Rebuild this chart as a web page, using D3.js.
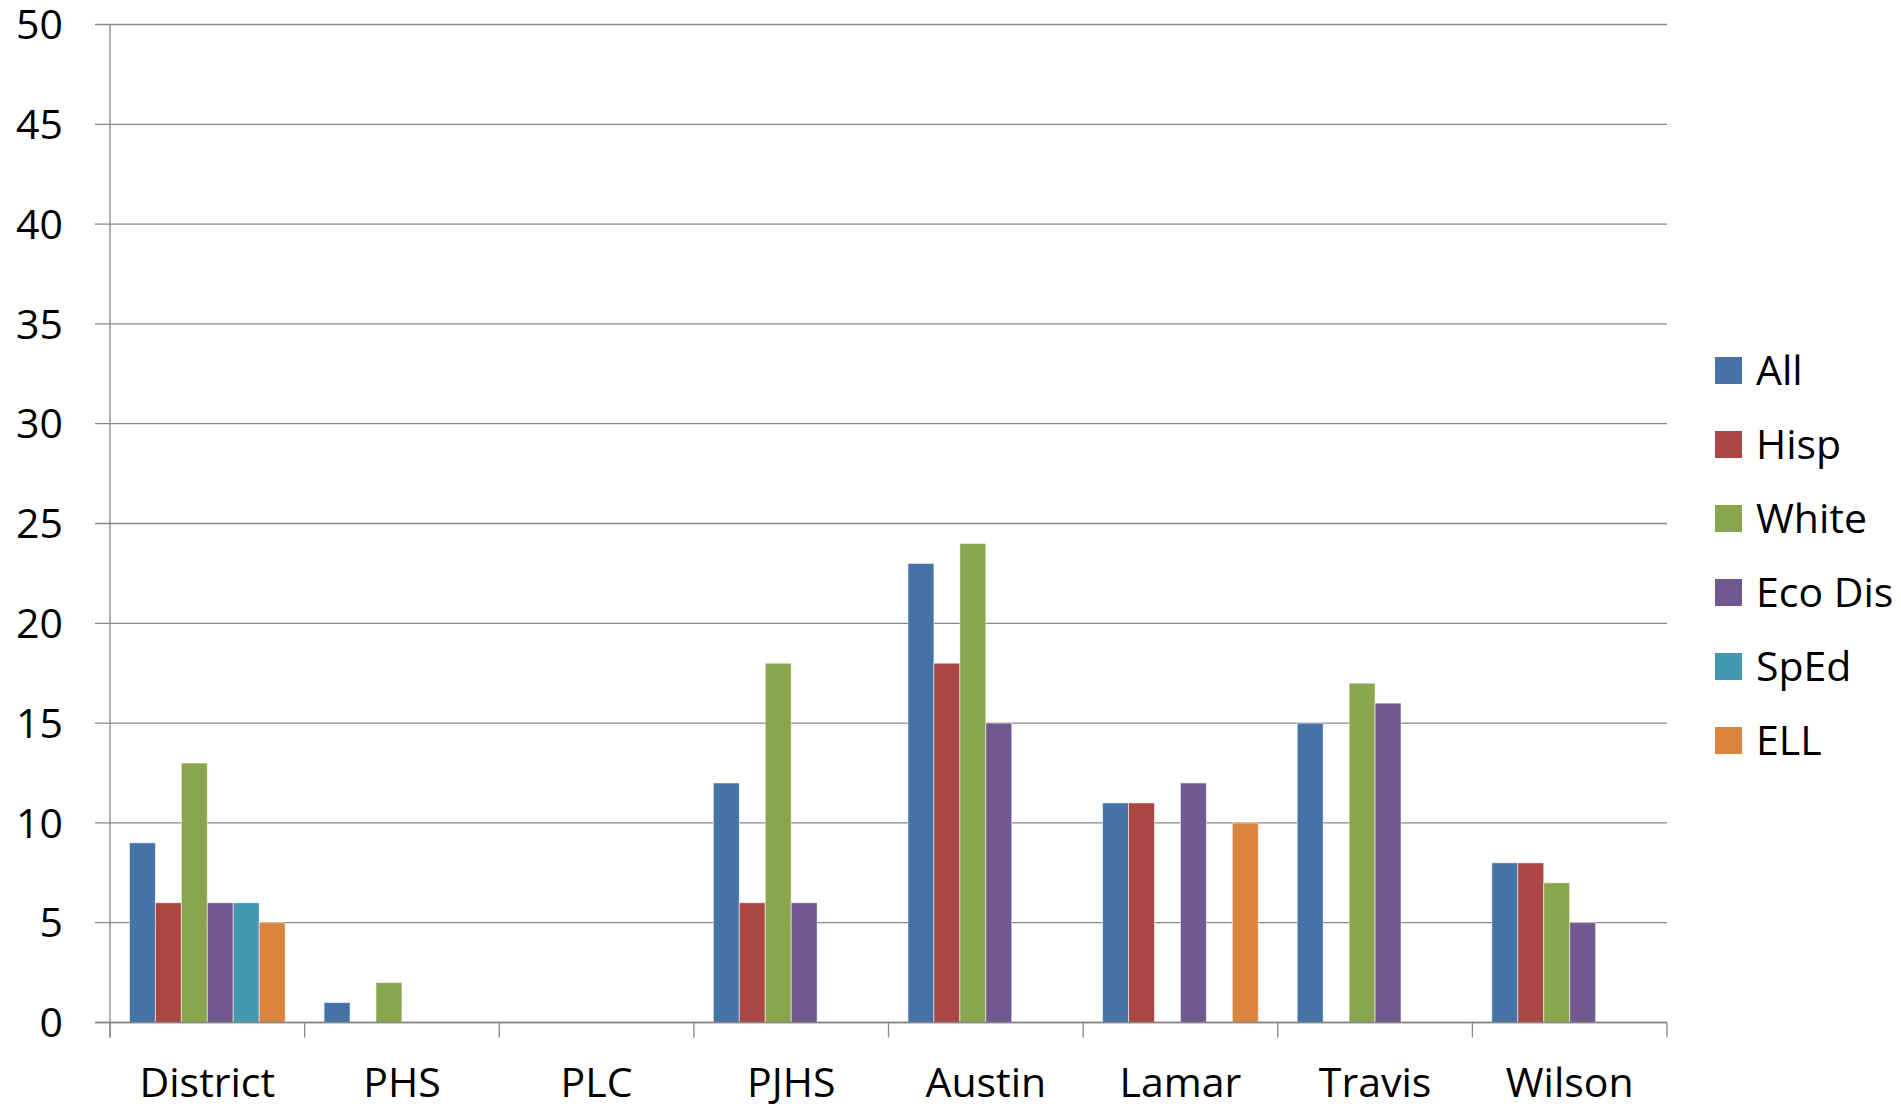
<!DOCTYPE html>
<html>
<head>
<meta charset="utf-8">
<script src="https://cdn.jsdelivr.net/npm/d3@7"></script>
<style>
  html, body { margin: 0; padding: 0; background: #fff; }
  svg { display: block; }
  text { font-family: "Open Sans", sans-serif; fill: #000; }
</style>
</head>
<body>
<svg id="chart" width="1901" height="1106"></svg>
<script>
const categories = ["District", "PHS", "PLC", "PJHS", "Austin", "Lamar", "Travis", "Wilson"];
const seriesNames = ["All", "Hisp", "White", "Eco Dis", "SpEd", "ELL"];
const seriesColors = ["#4572A7", "#AA4643", "#89A54E", "#71588F", "#4198AF", "#DB843D"];
const valuesAll    = [9, 1, 0, 12, 23, 11, 15, 8];
const valuesHisp   = [6, 0, 0, 6, 18, 11, 0, 8];
const valuesWhite  = [13, 2, 0, 18, 24, 0, 17, 7];
const valuesEcoDis = [6, 0, 0, 6, 15, 12, 16, 5];
const valuesSpEd   = [6, 0, 0, 0, 0, 0, 0, 0];
const valuesELL    = [5, 0, 0, 0, 0, 10, 0, 0];
const yTicks = [0, 5, 10, 15, 20, 25, 30, 35, 40, 45, 50];

const seriesValues = [valuesAll, valuesHisp, valuesWhite, valuesEcoDis, valuesSpEd, valuesELL];

const svg = d3.select("#chart");
const plotLeft = 110, plotRight = 1667, plotTop = 24.5, plotBottom = 1022.5;
const fontSize = 41;

const x = d3.scaleBand().domain(categories).range([plotLeft, plotRight]).paddingInner(0).paddingOuter(0);
const xInner = d3.scaleBand().domain(seriesNames).range([0, x.bandwidth()]).paddingInner(0).paddingOuter(0.75);
const y = d3.scaleLinear().domain([0, 50]).range([plotBottom, plotTop]);

const grid = "#878787";

// gridlines
svg.append("g").selectAll("line").data(yTicks).join("line")
  .attr("x1", plotLeft - 15).attr("x2", plotRight)
  .attr("y1", d => y(d)).attr("y2", d => y(d))
  .attr("stroke", grid).attr("stroke-width", 1.3);

// y tick labels
svg.append("g").selectAll("text").data(yTicks).join("text")
  .attr("x", 63).attr("y", d => y(d) + 0.357 * fontSize)
  .attr("text-anchor", "end").attr("font-size", fontSize)
  .text(d => d);

// bars
const barData = [];
categories.forEach((c, i) => {
  seriesNames.forEach((s, j) => {
    const v = seriesValues[j][i];
    if (v > 0) barData.push({ c, s, v, color: seriesColors[j] });
  });
});
svg.append("g").selectAll("rect").data(barData).join("rect")
  .attr("x", d => x(d.c) + xInner(d.s))
  .attr("width", xInner.bandwidth())
  .attr("y", d => y(d.v))
  .attr("height", d => y(0) - y(d.v))
  .attr("fill", d => d.color)
  .attr("stroke", "rgba(255,255,255,0.55)")
  .attr("stroke-width", 1);

// y axis line
svg.append("line").attr("x1", plotLeft).attr("x2", plotLeft).attr("y1", plotTop).attr("y2", plotBottom + 15)
  .attr("stroke", grid).attr("stroke-width", 1.3);

// x axis line
svg.append("line").attr("x1", plotLeft - 15).attr("x2", plotRight).attr("y1", plotBottom).attr("y2", plotBottom)
  .attr("stroke", grid).attr("stroke-width", 1.3);

// category ticks
const tickXs = categories.map(c => x(c)).concat([plotRight]);
svg.append("g").selectAll("line").data(tickXs).join("line")
  .attr("x1", d => d).attr("x2", d => d)
  .attr("y1", plotBottom).attr("y2", plotBottom + 15)
  .attr("stroke", grid).attr("stroke-width", 1.3);

// category labels
svg.append("g").selectAll("text").data(categories).join("text")
  .attr("x", d => x(d) + x.bandwidth() / 2)
  .attr("y", 1097)
  .attr("text-anchor", "middle").attr("font-size", fontSize)
  .text(d => d);

// legend
const legendY = d3.scalePoint().domain(seriesNames).range([370.5, 740.5]);
const lg = svg.append("g").selectAll("g").data(seriesNames).join("g");
lg.append("rect")
  .attr("x", 1715).attr("y", d => legendY(d) - 13.5)
  .attr("width", 27).attr("height", 27)
  .attr("fill", (d, i) => seriesColors[i]);
lg.append("text")
  .attr("x", 1756).attr("y", d => legendY(d) + 0.357 * fontSize)
  .attr("font-size", fontSize)
  .text(d => d);
</script>
</body>
</html>
